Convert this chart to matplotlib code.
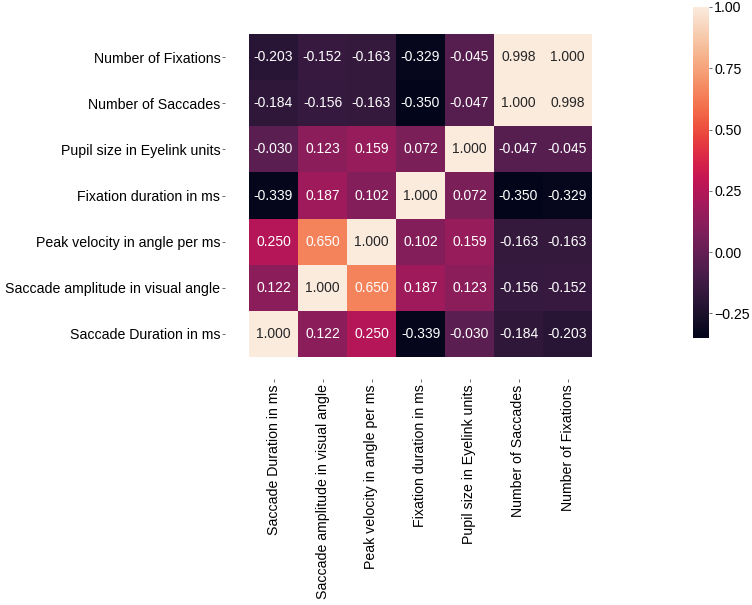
import matplotlib
matplotlib.use('Agg')
import matplotlib.pyplot as plt
import numpy as np
import seaborn as sns

plt.rcParams['font.family'] = ['Liberation Sans', 'DejaVu Sans']
plt.rcParams['font.size'] = 10

labels = ['Saccade Duration in ms', 'Saccade amplitude in visual angle',
          'Peak velocity in angle per ms', 'Fixation duration in ms',
          'Pupil size in Eyelink units', 'Number of Saccades', 'Number of Fixations']

# correlation matrix, row/col order as labels
corr = np.array([
    [1.000, 0.122, 0.250, -0.339, -0.030, -0.184, -0.203],
    [0.122, 1.000, 0.650, 0.187, 0.123, -0.156, -0.152],
    [0.250, 0.650, 1.000, 0.102, 0.159, -0.163, -0.163],
    [-0.339, 0.187, 0.102, 1.000, 0.072, -0.350, -0.329],
    [-0.030, 0.123, 0.159, 0.072, 1.000, -0.047, -0.045],
    [-0.184, -0.156, -0.163, -0.350, -0.047, 1.000, 0.998],
    [-0.203, -0.152, -0.163, -0.329, -0.045, 0.998, 1.000],
])

W, H = 752, 605
fig = plt.figure(figsize=(W / 100, H / 100), dpi=100)
ax = fig.add_axes([249 / W, (H - 357) / H, 343 / W, 323 / H])
cax = fig.add_axes([693 / W, (H - 338) / H, 16 / W, 331 / H])

sns.heatmap(corr, annot=True, fmt='.3f', cmap='rocket', ax=ax, cbar_ax=cax,
            xticklabels=labels, yticklabels=labels, annot_kws={'fontsize': 10})
ax.invert_yaxis()

# ticks sit away from the cells, like the original
ax.spines['left'].set_position(('outward', 17))
ax.spines['bottom'].set_position(('outward', 16))
ax.set_xticks(np.arange(len(labels)) + 0.5)
ax.set_yticks(np.arange(len(labels)) + 0.5)
ax.set_xticklabels(labels, rotation=90, fontsize=10.2)
ax.set_yticklabels(labels, rotation=0, fontsize=10.2)
ax.tick_params(length=2.2, width=0.6, pad=1.5, color='#555555')

cax.set_yticks([-0.25, 0.0, 0.25, 0.5, 0.75, 1.0])
cax.tick_params(labelsize=10.2, length=2.2, width=0.6, pad=1.5, color='#555555')

fig.savefig('out.png', dpi=100)
